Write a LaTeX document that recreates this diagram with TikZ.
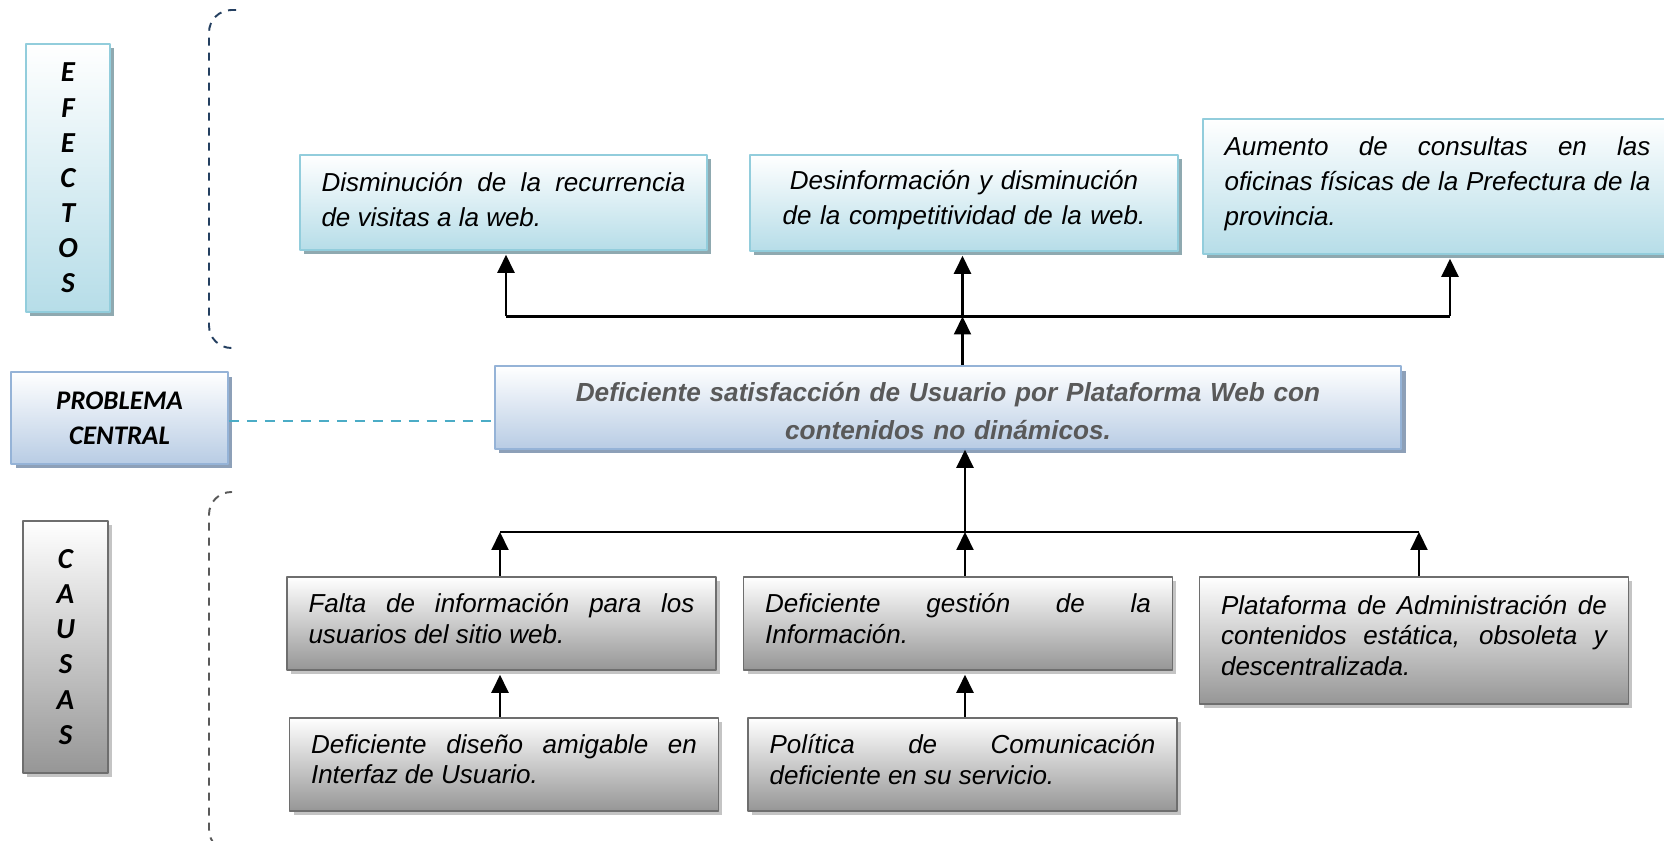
\documentclass[tikz,border=0pt]{standalone}
\usepackage{fontspec}
\setmainfont{Liberation Sans}
\newfontfamily\calibri{Carlito}
\usetikzlibrary{shadows,arrows.meta}
\hyphenpenalty=10000 \exhyphenpenalty=10000
\definecolor{efBorde}{HTML}{92CDDC}
\definecolor{efFondo}{HTML}{B6DDE8}
\definecolor{efSombra}{HTML}{8FA9B0}
\definecolor{pcBorde}{HTML}{95B3D7}
\definecolor{pcFondo}{HTML}{B8CCE4}
\definecolor{pcSombra}{HTML}{8DA0B8}
\definecolor{caBorde}{HTML}{6E6E6E}
\definecolor{caFondo}{HTML}{969696}
\definecolor{caSombra}{HTML}{C4C4C4}
\definecolor{txGris}{HTML}{595959}
\definecolor{llaveAzul}{HTML}{243F60}
\definecolor{lineaCian}{HTML}{4BACC6}
\tikzset{
  caja/.style={line width=0.9pt, inner xsep=0.43cm, inner ysep=0.1cm},
  subir/.style={execute at end node={\par\vspace{#1}}},
  efecto/.style={caja, draw=efBorde, top color=white, bottom color=efFondo,
    drop shadow={shadow xshift=0.08cm, shadow yshift=-0.08cm, fill=efSombra, opacity=1},
    font=\fontsize{14.8}{19.8}\selectfont\itshape},
  central/.style={caja, draw=pcBorde, top color=white, bottom color=pcFondo,
    drop shadow={shadow xshift=0.09cm, shadow yshift=-0.09cm, fill=pcSombra, opacity=1}},
  causa/.style={caja, draw=caBorde, top color=white, bottom color=caFondo,
    drop shadow={shadow xshift=0.08cm, shadow yshift=-0.08cm, fill=caSombra, opacity=1},
    text width=7.72cm, minimum height=1.86cm, align=justify, subir=0.2cm,
    font=\fontsize{14.8}{17.3}\selectfont\itshape},
  rotulo/.style={font=\calibri\bfseries\itshape\fontsize{15.3}{20}\selectfont, align=center, inner sep=0pt},
  letras/.style={rotulo, font=\calibri\bfseries\itshape\fontsize{16.5}{20}\selectfont},
  flecha/.style={line width=1.2pt, -{Triangle[length=0.36cm,width=0.34cm]}},
  llave/.style={line width=1.1pt, dash pattern=on 0.16cm off 0.14cm, rounded corners=0.45cm},
}
\begin{document}
\begin{tikzpicture}[x=0.02cm, y=-0.02cm, line join=round]
\useasboundingbox (0,0) rectangle (1664,841);
% rotulos laterales
\node[efecto, letras, minimum width=1.67cm, minimum height=5.37cm] (efectos) at (68,178) {E\\F\\E\\C\\T\\O\\S};
\node[central, rotulo, minimum width=4.34cm, minimum height=1.84cm] (problema) at (119.5,418) {PROBLEMA\\CENTRAL};
\node[causa, letras, text width=, execute at end node=, minimum width=1.7cm, minimum height=5.04cm] (causas) at (65.5,647) {C\\A\\U\\S\\A\\S};
\draw[llave, draw=llaveAzul] (236,10) -- (209,10) -- (209,348) -- (236,348);
\draw[llave, draw=txGris] (230,492) -- (209,492) -- (209,852) -- (236,852);
% efectos
\node[efecto, subir=0.12cm, text width=7.28cm, minimum height=1.9cm, align=justify] (e1) at (503.5,202.5)
  {Disminución de la recurrencia\linebreak de visitas a la web.};
\node[efecto, subir=0.12cm, text width=7.7cm, minimum height=1.92cm, align=center] (e2) at (964,203)
  {Desinformación y disminución\\ de la competitividad de la web.};
\node[efecto, subir=0.1cm, text width=8.52cm, minimum height=2.7cm, align=justify] (e3) at (1437.5,186.5)
  {Aumento de consultas en las\linebreak oficinas físicas de la Prefectura de la\linebreak provincia.};
% problema central
\node[central, subir=-0.13cm, minimum width=18.13cm, minimum height=1.66cm, text width=17cm, align=center,
  text=txGris, font=\fontsize{14.9}{21.5}\selectfont\bfseries\itshape] (medio) at (948,407.5)
  {Deficiente satisfacción de Usuario por Plataforma Web con\\ contenidos no dinámicos.};
\draw[lineaCian, line width=1.2pt, dash pattern=on 0.2cm off 0.16cm] (problema.east |- 0,421) -- (medio.west |- 0,421);
% causas
\node[causa] (c1) at (501.5,623.5) {Falta de información para los\linebreak usuarios del sitio web.};
\node[causa] (c2) at (958,623.5) {Deficiente gestión de la\linebreak Información.};
\node[causa, minimum height=2.54cm] (c3) at (1414,640.5) {Plataforma de Administración de\linebreak contenidos estática, obsoleta y\linebreak descentralizada.};
\node[causa] (c4) at (504,764.5) {Deficiente diseño amigable en\linebreak Interfaz de Usuario.};
\node[causa] (c5) at (962.5,764.5) {Política de Comunicación\linebreak deficiente en su servicio.};
% conectores
\coordinate (bE1) at (506,316.5);
\coordinate (bE2) at (962.5,316.5);
\coordinate (bE3) at (1450,316.5);
\coordinate (bC1) at (500,532);
\coordinate (bC2) at (965,532);
\coordinate (bC3) at (1419,532);
\draw[line width=1.2pt] (bE1) -- (bE3);
\draw[line width=1.2pt] (bC1) -- (bC3);
\foreach \b/\n in {bE1/e1, bE2/e2, bE3/e3}
  \draw[flecha, shorten >=0.08cm] (\b) -- (\b |- \n.south);
\draw[flecha] (bE2 |- medio.north) -- (bE2);
\draw[flecha] (bC2) -- (bC2 |- medio.south);
\foreach \b/\n in {bC1/c1, bC2/c2, bC3/c3}
  \draw[flecha] (\b |- \n.north) -- (\b);
\draw[flecha, shorten >=0.08cm] (bC1 |- c4.north) -- (bC1 |- c1.south);
\draw[flecha, shorten >=0.08cm] (bC2 |- c5.north) -- (bC2 |- c2.south);
\end{tikzpicture}
\end{document}
